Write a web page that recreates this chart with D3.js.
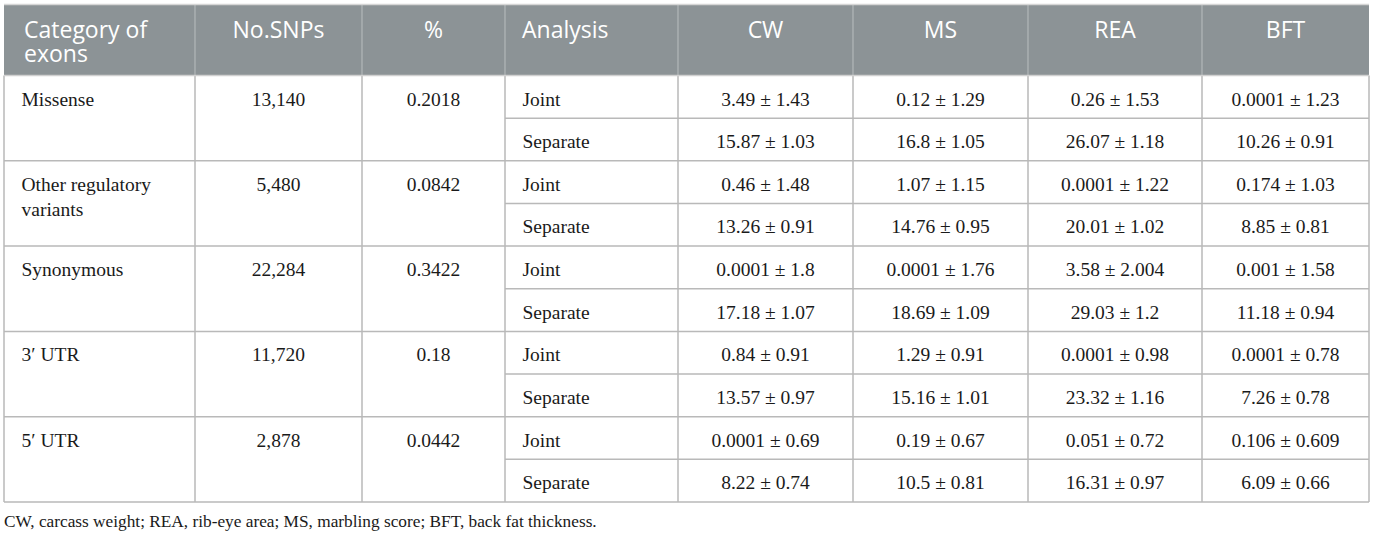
<!DOCTYPE html>
<html lang="en">
<head>
  <meta charset="UTF-8">
  <title>SNP exon categories - genomic variance table</title>
  <script src="https://d3js.org/d3.v7.min.js"></script>
  <style>
    body {
      margin: 0;
      background: #fff;
    }
    .head text {
      font-family: "Open Sans", sans-serif;
      font-size: 23px;
      fill: #fff;
    }
    .cell text {
      font-family: "Liberation Serif", serif;
      font-size: 19.5px;
      fill: #1a1a1a;
    }
    .note {
      font-family: "Liberation Serif", serif;
      font-size: 17.3px;
      fill: #1a1a1a;
    }
  </style>
</head>
<body>
<div id="chart"></div>

<script>
  // table contents
  const headers = ["Category of exons", "No.SNPs", "%", "Analysis", "CW", "MS", "REA", "BFT"];
  const categories = [["Missense"], ["Other regulatory", "variants"], ["Synonymous"], ["3\u2032 UTR"], ["5\u2032 UTR"]];
  const nSnps = ["13,140", "5,480", "22,284", "11,720", "2,878"];
  const pct = [0.2018, 0.0842, 0.3422, 0.18, 0.0442];
  const analyses = ["Joint", "Separate"];
  const traits = ["CW", "MS", "REA", "BFT"];

  // variance estimates, one array per trait: [joint, separate] for each category
  const cwMean = [[3.49, 15.87], [0.46, 13.26], [0.0001, 17.18], [0.84, 13.57], [0.0001, 8.22]];
  const cwSe   = [[1.43, 1.03], [1.48, 0.91], [1.8, 1.07], [0.91, 0.97], [0.69, 0.74]];
  const msMean = [[0.12, 16.8], [1.07, 14.76], [0.0001, 18.69], [1.29, 15.16], [0.19, 10.5]];
  const msSe   = [[1.29, 1.05], [1.15, 0.95], [1.76, 1.09], [0.91, 1.01], [0.67, 0.81]];
  const reaMean = [[0.26, 26.07], [0.0001, 20.01], [3.58, 29.03], [0.0001, 23.32], [0.051, 16.31]];
  const reaSe   = [[1.53, 1.18], [1.22, 1.02], [2.004, 1.2], [0.98, 1.16], [0.72, 0.97]];
  const bftMean = [[0.0001, 10.26], [0.174, 8.85], [0.001, 11.18], [0.0001, 7.26], [0.106, 6.09]];
  const bftSe   = [[1.23, 0.91], [1.03, 0.81], [1.58, 0.94], [0.78, 0.78], [0.609, 0.66]];

  const footnote = "CW, carcass weight; REA, rib-eye area; MS, marbling score; BFT, back fat thickness.";

  const traitMeans = [cwMean, msMean, reaMean, bftMean];
  const traitSes = [cwSe, msSe, reaSe, bftSe];

  const width = 1375;
  const height = 535;
  const colEdges = [4, 195, 362, 505, 678, 853, 1028, 1202, 1369];
  const headTop = 5, headBottom = 75.5, tableBottom = 502;
  const leftAligned = [0, 3];

  const svg = d3.select("#chart").append("svg")
    .attr("width", width)
    .attr("height", height);

  // one band per Joint/Separate sub-row
  const subRows = d3.range(categories.length * analyses.length);
  const y = d3.scaleBand()
    .domain(subRows)
    .range([headBottom, tableBottom])
    .paddingInner(0);

  const colX = i => colEdges[i];
  const colW = i => colEdges[i + 1] - colEdges[i];
  const textX = (i, pad) => leftAligned.includes(i) ? colX(i) + pad : colX(i) + colW(i) / 2;
  const anchor = i => leftAligned.includes(i) ? "start" : "middle";

  // header
  const head = svg.append("g").attr("class", "head");
  head.append("rect")
    .attr("x", colEdges[0])
    .attr("y", headTop)
    .attr("width", colEdges[colEdges.length - 1] - colEdges[0])
    .attr("height", headBottom - headTop)
    .attr("fill", "#8c9396");

  head.selectAll("line")
    .data(colEdges.slice(1, -1))
    .join("line")
      .attr("x1", d => d).attr("x2", d => d)
      .attr("y1", headTop).attr("y2", headBottom)
      .attr("stroke", "#b2b7b9")
      .attr("stroke-width", 1.2);

  const headLines = headers.map((h, i) => i === 0 ? ["Category of", "exons"] : [h]);
  head.selectAll("text")
    .data(headLines)
    .join("text")
      .attr("x", (d, i) => textX(i, i === 0 ? 20 : 17))
      .attr("y", 38)
      .attr("text-anchor", (d, i) => anchor(i))
      .selectAll("tspan")
      .data(d => d)
      .join("tspan")
        .attr("x", function () { return this.parentNode.getAttribute("x"); })
        .attr("dy", (d, j) => j === 0 ? 0 : 24)
        .text(d => d);

  // body cells
  const body = svg.append("g").attr("class", "cell");

  const cells = [];
  categories.forEach((cat, c) => {
    const top = y(c * 2);
    cells.push({ col: 0, top, lines: cat });
    cells.push({ col: 1, top, lines: [nSnps[c]] });
    cells.push({ col: 2, top, lines: [String(pct[c])] });
    analyses.forEach((a, k) => {
      const rTop = y(c * 2 + k);
      cells.push({ col: 3, top: rTop, lines: [a] });
      traits.forEach((t, ti) => {
        const m = traitMeans[ti][c][k];
        const s = traitSes[ti][c][k];
        cells.push({ col: 4 + ti, top: rTop, lines: [`${m} \u00b1 ${s}`] });
      });
    });
  });

  body.selectAll("text")
    .data(cells)
    .join("text")
      .attr("x", d => textX(d.col, 17.5))
      .attr("y", d => d.top + 30)
      .attr("text-anchor", d => anchor(d.col))
      .selectAll("tspan")
      .data(d => d.lines)
      .join("tspan")
        .attr("x", function () { return this.parentNode.getAttribute("x"); })
        .attr("dy", (d, j) => j === 0 ? 0 : 25)
        .text(d => d);

  // grid lines
  const grid = svg.append("g")
    .attr("stroke", "#b9b9b9")
    .attr("stroke-width", 1.5);

  // horizontal: full width between categories, partial between Joint/Separate
  const hLines = subRows.slice(1).map(r => ({
    y: y(r),
    x1: r % 2 === 0 ? colEdges[0] : colEdges[3]
  }));
  grid.selectAll("line.h")
    .data(hLines)
    .join("line")
      .attr("class", "h")
      .attr("x1", d => d.x1)
      .attr("x2", colEdges[colEdges.length - 1])
      .attr("y1", d => d.y).attr("y2", d => d.y);

  grid.selectAll("line.v")
    .data(colEdges)
    .join("line")
      .attr("class", "v")
      .attr("x1", d => d).attr("x2", d => d)
      .attr("y1", headBottom).attr("y2", tableBottom);

  grid.append("line")
    .attr("x1", colEdges[0]).attr("x2", colEdges[colEdges.length - 1])
    .attr("y1", tableBottom).attr("y2", tableBottom);
  grid.append("line")
    .attr("x1", colEdges[0]).attr("x2", colEdges[colEdges.length - 1])
    .attr("y1", headBottom).attr("y2", headBottom)
    .attr("stroke", "#d0d0d0");
  grid.append("line")
    .attr("x1", colEdges[0]).attr("x2", colEdges[colEdges.length - 1])
    .attr("y1", headTop - 0.5).attr("y2", headTop - 0.5)
    .attr("stroke", "#d6d6d6");

  svg.append("text")
    .attr("class", "note")
    .attr("x", 4)
    .attr("y", 527)
    .text(footnote);
</script>
</body>
</html>
